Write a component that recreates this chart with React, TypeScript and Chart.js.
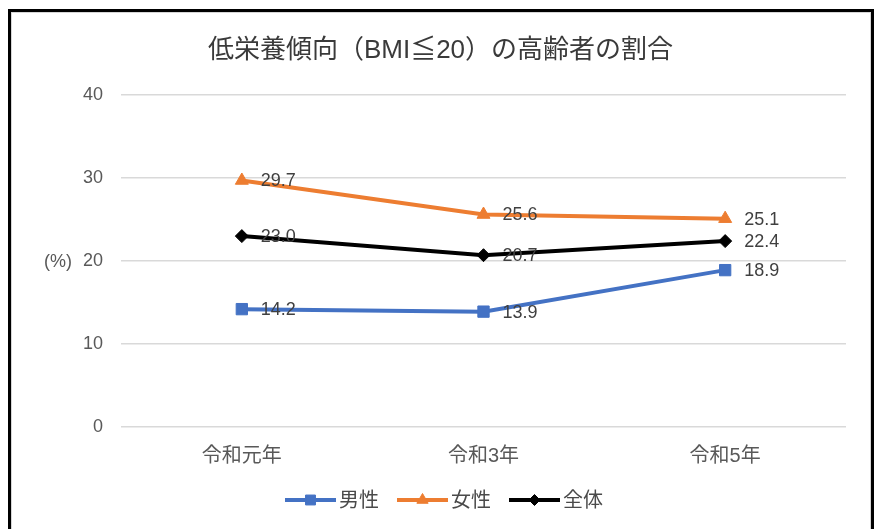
import React, { useEffect, useRef } from "react";
import { Chart, registerables } from "chart.js";
import { drawPoint } from "chart.js/helpers";

Chart.register(...registerables);

const TITLE = "低栄養傾向（BMI≦20）の高齢者の割合";
const CATEGORIES = ["令和元年", "令和3年", "令和5年"];
const SERIES_NAMES = ["男性", "女性", "全体"];
const MALE = [14.2, 13.9, 18.9];
const FEMALE = [29.7, 25.6, 25.1];
const TOTAL = [23.0, 20.7, 22.4];
const Y_TICKS = [0, 10, 20, 30, 40];
const UNIT_LABEL = "(%)";

const FONT = "'Liberation Sans', 'Noto Sans CJK JP', sans-serif";
const COLORS = ["#4472C4", "#ED7D31", "#000000"];
const POINT_STYLES = ["rect", "triangle", "rectRot"];
const POINT_RADII = [8, 7.5, 6.5];

const overlayPlugin = {
  id: "overlay",
  afterDatasetsDraw(chart: any) {
    const ctx = chart.ctx;
    ctx.save();
    // data labels
    ctx.font = `18px ${FONT}`;
    ctx.fillStyle = "#404040";
    ctx.textAlign = "left";
    ctx.textBaseline = "middle";
    chart.data.datasets.forEach((ds: any, i: number) => {
      const meta = chart.getDatasetMeta(i);
      meta.data.forEach((pt: any, j: number) => {
        ctx.fillText(Number(ds.data[j]).toFixed(1), pt.x + 19, pt.y + 1);
      });
    });
    // title
    ctx.font = `26px ${FONT}`;
    ctx.fillStyle = "#3a3a3a";
    ctx.textAlign = "center";
    ctx.fillText(TITLE, chart.width / 2 + 3, 51);
    // unit label
    ctx.font = `18px ${FONT}`;
    ctx.fillStyle = "#595959";
    ctx.textAlign = "right";
    ctx.fillText(UNIT_LABEL, 72, chart.scales.y.getPixelForValue(20) + 1);
    // legend
    ctx.font = `20px ${FONT}`;
    ctx.textAlign = "left";
    const lineLen = 51;
    const gap = 3;
    const itemGap = 18;
    const widths = chart.data.datasets.map((ds: any) => ctx.measureText(ds.label).width);
    const total =
      widths.reduce((a: number, w: number) => a + lineLen + gap + w, 0) +
      itemGap * (widths.length - 1);
    let x = 444 - total / 2;
    const ly = 500;
    chart.data.datasets.forEach((ds: any, i: number) => {
      ctx.strokeStyle = ds.borderColor;
      ctx.lineWidth = 4;
      ctx.beginPath();
      ctx.moveTo(x, ly);
      ctx.lineTo(x + lineLen, ly);
      ctx.stroke();
      ctx.fillStyle = ds.borderColor;
      ctx.strokeStyle = ds.borderColor;
      ctx.lineWidth = 1;
      drawPoint(ctx, { pointStyle: ds.pointStyle, radius: ds.pointRadius - 1, borderWidth: 1, rotation: 0 }, x + lineLen / 2, ly);
      ctx.fillStyle = "#4a4a4a";
      ctx.fillText(ds.label, x + lineLen + gap, ly + 1);
      x += lineLen + gap + widths[i] + itemGap;
    });
    ctx.restore();
  },
};

export default function App() {
  const canvasRef = useRef<HTMLCanvasElement | null>(null);

  useEffect(() => {
    if (!canvasRef.current) return;
    const seriesData = [MALE, FEMALE, TOTAL];
    const chart = new Chart(canvasRef.current, {
      type: "line",
      data: {
        labels: CATEGORIES,
        datasets: seriesData.map((d, i) => ({
          label: SERIES_NAMES[i],
          data: d,
          borderColor: COLORS[i],
          backgroundColor: COLORS[i],
          borderWidth: 4,
          pointStyle: POINT_STYLES[i] as any,
          pointRadius: POINT_RADII[i],
          pointHoverRadius: POINT_RADII[i],
          pointBorderWidth: 1,
          pointBackgroundColor: COLORS[i],
          pointBorderColor: COLORS[i],
          tension: 0,
          fill: false,
        })),
      },
      options: {
        animation: false,
        responsive: false,
        devicePixelRatio: 1,
        layout: { padding: { top: 95, right: 29, left: 0, bottom: 0 } },
        plugins: {
          legend: { display: false },
          title: { display: false },
          tooltip: { enabled: false },
        },
        scales: {
          x: {
            type: "category",
            offset: true,
            grid: { display: false },
            border: { display: false },
            ticks: {
              color: "#595959",
              font: { family: FONT, size: 20 },
              padding: 9,
              maxRotation: 0,
            },
            afterFit: (s: any) => {
              s.height = 102;
            },
          },
          y: {
            min: Y_TICKS[0],
            max: Y_TICKS[Y_TICKS.length - 1],
            grid: { color: "#d9d9d9", lineWidth: 1.5, drawTicks: false },
            border: { display: false },
            ticks: {
              stepSize: Y_TICKS[1] - Y_TICKS[0],
              color: "#595959",
              font: { family: FONT, size: 18 },
              padding: 18,
            },
            afterFit: (s: any) => {
              s.width = 121;
            },
          },
        },
      },
      plugins: [overlayPlugin],
    });
    return () => chart.destroy();
  }, []);

  return (
    <div>
      <div
        style={{
          position: "fixed",
          left: 8,
          top: 9,
          width: 860,
          height: 540,
          border: "3px solid #000",
          boxShadow: "inset 0 0 0 1px #d6d6d6",
          background: "#fff",
        }}
      />
      <canvas
        ref={canvasRef}
        width={875}
        height={529}
        style={{ position: "fixed", left: 0, top: 0, display: "block" }}
      />
    </div>
  );
}
